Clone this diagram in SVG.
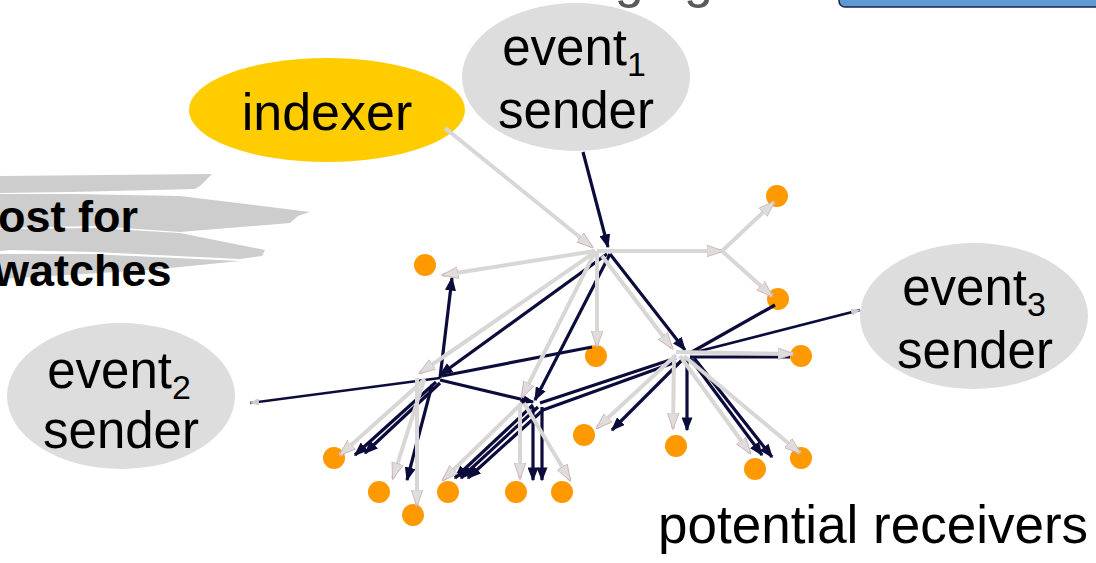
<svg xmlns="http://www.w3.org/2000/svg" width="1096" height="563" viewBox="0 0 1096 563">
<style>
.t{font-family:"Liberation Sans",Arial,sans-serif;fill:#000}
.sub{font-size:34px}
.d{stroke:#0c0c3c;stroke-width:3.2;fill:none;marker-end:url(#ad)}
.dn{stroke:#0c0c3c;stroke-width:3.2;fill:none}
.ds{stroke:#0c0c3c;stroke-width:2.6;fill:none;marker-end:url(#as)}
.g{stroke:#d9d6d6;stroke-width:4;fill:none;marker-end:url(#ag)}
.dot{fill:#ff9900}
.brush{fill:#cdcdcd}
</style>
<defs>
<marker id="ad" viewBox="0 0 10 10" refX="9" refY="5" markerWidth="14" markerHeight="11" markerUnits="userSpaceOnUse" orient="auto" preserveAspectRatio="none"><path d="M0,0 L10,5 L0,10 Z" fill="#0c0c3c"/></marker>
<marker id="ag" viewBox="0 0 10 10" refX="9" refY="5" markerWidth="17" markerHeight="13" markerUnits="userSpaceOnUse" orient="auto" preserveAspectRatio="none"><path d="M0,0.5 L10,5 L0,9.5 Z" fill="#dddddd" stroke="#cfa6a6" stroke-width="0.5"/></marker>
<marker id="as" viewBox="0 0 10 10" refX="9" refY="5" markerWidth="10" markerHeight="7" markerUnits="userSpaceOnUse" orient="auto" preserveAspectRatio="none"><path d="M0,0 L10,5 L0,10 Z" fill="#cccccc"/></marker>
</defs>
<rect width="1096" height="563" fill="#ffffff"/>

<!-- title remnants -->
<text class="t" x="713" y="-3" text-anchor="end" font-size="52" style="fill:#5a5a5a">ging</text>
<rect x="839" y="-20" width="300" height="27" rx="6" fill="#5f9bd3" stroke="#1a2050" stroke-width="1.5"/>

<!-- brush strokes -->
<g id="brush">
<path class="brush" d="M0,176 L212,174 L200,186 L195,189 L70,192 L0,193 Z"/>
<path class="brush" d="M0,194 L75,194 L180,196 L310,212 L298,216 L290,223 L180,232 L95,226 L0,228 Z"/>
<path class="brush" d="M0,229 L95,228 L180,233 L265,250 L262,256 L240,259 L95,252 L10,250 L0,251 Z"/>
<path class="brush" d="M0,254 L90,254 L240,261 L150,270 L0,279 Z"/>
</g>
<text class="t" x="-2" y="232" font-size="45" font-weight="bold">ost for</text>
<text class="t" x="-6" y="286" font-size="45" font-weight="bold">watches</text>

<!-- nodes -->
<g id="indexer">
<ellipse cx="327" cy="110" rx="138" ry="52" fill="#ffcc00"/>
<text class="t" x="327" y="130" font-size="52" text-anchor="middle">indexer</text>
</g>
<g id="event1-sender">
<ellipse cx="576" cy="77" rx="114" ry="74" fill="#dddddd"/>
<text class="t" x="574" y="65" font-size="51" text-anchor="middle">event<tspan class="sub" dy="11">1</tspan></text>
<text class="t" x="576" y="128" font-size="51" text-anchor="middle">sender</text>
</g>
<g id="event2-sender">
<ellipse cx="121" cy="396" rx="114" ry="73" fill="#dddddd"/>
<text class="t" x="119" y="388" font-size="51" text-anchor="middle">event<tspan class="sub" dy="11">2</tspan></text>
<text class="t" x="121" y="448" font-size="51" text-anchor="middle">sender</text>
</g>
<g id="event3-sender">
<ellipse cx="974" cy="316" rx="114" ry="73" fill="#dddddd"/>
<text class="t" x="974" y="305" font-size="51" text-anchor="middle">event<tspan class="sub" dy="11">3</tspan></text>
<text class="t" x="975" y="368" font-size="51" text-anchor="middle">sender</text>
</g>

<g id="receivers">
<circle class="dot" cx="777" cy="196" r="11"/>
<circle class="dot" cx="425" cy="265" r="11"/>
<circle class="dot" cx="778" cy="299" r="11"/>
<circle class="dot" cx="596" cy="356" r="11"/>
<circle class="dot" cx="801" cy="356" r="11"/>
<circle class="dot" cx="584" cy="435" r="11"/>
<circle class="dot" cx="676" cy="446" r="11"/>
<circle class="dot" cx="334" cy="458" r="11"/>
<circle class="dot" cx="379" cy="492" r="11"/>
<circle class="dot" cx="413" cy="515" r="11"/>
<circle class="dot" cx="448" cy="492" r="11"/>
<circle class="dot" cx="516" cy="492" r="11"/>
<circle class="dot" cx="562" cy="492" r="11"/>
<circle class="dot" cx="755" cy="469" r="11"/>
<circle class="dot" cx="801" cy="458" r="11"/>
</g>

<g id="connectors">
<!-- dark -->
<path class="d" d="M583,152 L608,247"/>
<path class="ds" d="M440,378 L250,403"/>
<path class="d" d="M607,254 L440,375"/>
<path class="d" d="M610,254 L535,400"/>
<path class="d" d="M610,254 L685,350"/>
<path class="d" d="M440,378 L452,278"/>
<path class="d" d="M440,380 L533,402"/>
<path class="dn" d="M442,376 L592,347"/>
<path class="dn" d="M690,353 L775,305"/>
<path class="ds" d="M692,353 L860,310"/>
<path class="dn" d="M690,357 L790,357"/>
<path class="dn" d="M676,358 L540,403"/>
<path class="dn" d="M676,362 L543,410"/>
<path class="d" d="M684,358 L612,430"/>
<path class="d" d="M687,358 L687,430"/>
<path class="d" d="M690,358 L762,455"/>
<path class="d" d="M694,358 L772,457"/>
<path class="d" d="M436,382 L355,455"/>
<path class="d" d="M440,383 L365,453"/>
<path class="d" d="M432,385 L407,480"/>
<path class="d" d="M533,405 L455,478"/>
<path class="d" d="M538,407 L461,478"/>
<path class="d" d="M543,410 L468,478"/>
<path class="d" d="M533,407 L533,480"/>
<path class="d" d="M542,407 L542,480"/>
<!-- gray -->
<path class="g" d="M445,128 L592,247"/>
<path class="g" d="M595,251 L443,275"/>
<path class="g" d="M597,251 L722,251"/>
<path class="g" d="M722,251 L774,202"/>
<path class="g" d="M722,251 L772,296"/>
<path class="g" d="M597,251 L597,346"/>
<path class="g" d="M595,252 L420,373"/>
<path class="g" d="M595,252 L522,397"/>
<path class="g" d="M602,256 L672,348"/>
<path class="g" d="M676,352 L793,354"/>
<path class="g" d="M676,355 L597,428"/>
<path class="g" d="M674,355 L673,428"/>
<path class="g" d="M680,356 L750,453"/>
<path class="g" d="M684,356 L800,453"/>
<path class="g" d="M425,379 L340,455"/>
<path class="g" d="M424,380 L393,478"/>
<path class="g" d="M417,378 L417,505"/>
<path class="g" d="M522,403 L443,480"/>
<path class="g" d="M520,403 L520,478"/>
<path class="g" d="M524,403 L570,480"/>
</g>

<text class="t" x="658" y="543" font-size="53">potential receivers</text>
</svg>
